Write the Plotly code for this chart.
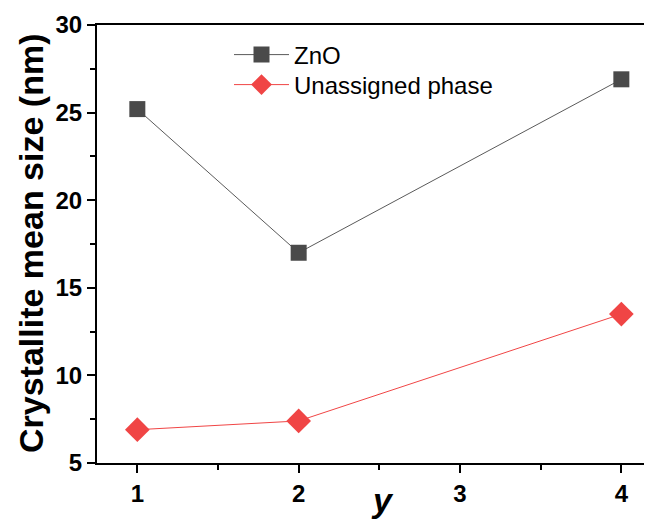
import plotly.graph_objects as go

x_vals = [1, 2, 4]
zno = [25.2, 17.0, 26.9]
unassigned = [6.9, 7.4, 13.5]
x_ticks = [1, 2, 3, 4]
y_ticks = [5, 10, 15, 20, 25, 30]

FONT = "Liberation Sans, Arial, sans-serif"
# the page body adds an 8 px margin, so the figure is 8 px smaller each way
W, H = 644, 511
L, T, B, R = 89, 17, 56, 0
PW, PH = W - L - R, H - T - B

fig = go.Figure()
fig.add_trace(go.Scatter(
    x=x_vals, y=zno, name="ZnO", mode="lines+markers", legend="legend",
    line=dict(color="#5a5a5a", width=1),
    marker=dict(symbol="square", size=16, color="#4a4a4a", line=dict(width=0)),
))
fig.add_trace(go.Scatter(
    x=x_vals, y=unassigned, name="Unassigned phase", mode="lines+markers", legend="legend2",
    line=dict(color="#f04545", width=1),
    marker=dict(symbol="diamond", size=19, color="#f04545", line=dict(width=0)),
))

leg_common = dict(
    xanchor="left", yanchor="middle",
    font=dict(size=24, family=FONT, color="black"),
    bgcolor="rgba(0,0,0,0)", itemwidth=55,
)

fig.update_layout(
    width=W, height=H,
    margin=dict(l=L, r=R, t=T, b=B),
    paper_bgcolor="white", plot_bgcolor="white",
    font=dict(family=FONT, color="black"),
    showlegend=True,
    legend=dict(x=(221 - L) / PW, y=1 - (47 - T) / PH, **leg_common),
    legend2=dict(x=(221 - L) / PW, y=1 - (77 - T) / PH, **leg_common),
    annotations=[
        dict(text="<b>Crystallite mean size (nm)</b>", textangle=-90,
             x=(23 - L) / PW, y=0.5, xref="paper", yref="paper",
             xanchor="center", yanchor="middle", showarrow=False,
             font=dict(size=34, family=FONT, color="black")),
        dict(text="<b><i>y</i></b>",
             x=(374 - L) / PW, y=-(471 - (H - B)) / PH, xref="paper", yref="paper",
             xanchor="center", yanchor="top", showarrow=False,
             font=dict(size=34, family=FONT, color="black")),
    ],
)

fig.update_xaxes(
    range=[0.75, 4.19], tickvals=x_ticks, ticktext=[str(t) for t in x_ticks],
    showgrid=False, zeroline=False, automargin=False,
    showline=True, linecolor="black", linewidth=2, mirror=True,
    ticks="outside", ticklen=8, tickwidth=2, tickcolor="black",
    tickfont=dict(size=24, family=FONT, color="black", weight="bold"),
    minor=dict(ticks="outside", dtick=0.5, tick0=0.5, ticklen=5, tickwidth=2, tickcolor="black"),
)
fig.update_yaxes(
    range=[5, 30], tickvals=y_ticks, ticktext=[str(t) for t in y_ticks],
    showgrid=False, zeroline=False, automargin=False,
    showline=True, linecolor="black", linewidth=2,
    ticks="outside", ticklen=8, tickwidth=2, tickcolor="black",
    tickfont=dict(size=24, family=FONT, color="black", weight="bold"),
    minor=dict(ticks="outside", dtick=2.5, tick0=0, ticklen=5, tickwidth=2, tickcolor="black"),
)

fig.write_html("out.html")
